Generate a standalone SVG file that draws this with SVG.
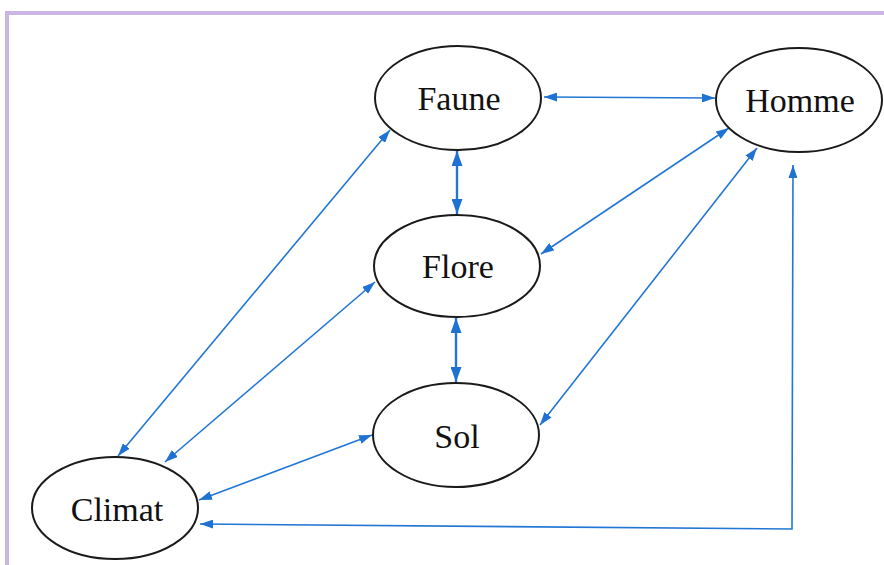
<svg xmlns="http://www.w3.org/2000/svg" width="884" height="565" viewBox="0 0 884 565">
<style>
.node ellipse{fill:#fff;stroke:#1a1a1a;stroke-width:2}
.node text{font-family:"Liberation Serif","Times New Roman",serif;font-size:34px;fill:#111;text-anchor:middle}
.conn path,.conn line{fill:none;stroke:#2277d4;stroke-width:1.6}
.thick{stroke-width:2.4 !important}
</style>
<defs>
<marker id="ah" viewBox="0 0 13 9" refX="13" refY="4.5" markerWidth="13" markerHeight="9" markerUnits="userSpaceOnUse" orient="auto-start-reverse">
<path d="M0,0 L13,4.5 L0,9 Z" fill="#1f72d2"/>
</marker>
<marker id="ahb" viewBox="0 0 15 11" refX="15" refY="5.5" markerWidth="15" markerHeight="11" markerUnits="userSpaceOnUse" orient="auto-start-reverse">
<path d="M0,0 L15,5.5 L0,11 Z" fill="#1f72d2"/>
</marker>
</defs>
<rect width="884" height="565" fill="#fff"/>
<path d="M7,570 L7,13 L890,13" fill="none" stroke="#cbb6e3" stroke-width="4"/>
<g class="conn">
<line x1="544" y1="97" x2="715" y2="98" marker-start="url(#ah)" marker-end="url(#ah)"/>
<line class="thick" x1="457" y1="151" x2="457" y2="214" marker-start="url(#ahb)" marker-end="url(#ahb)"/>
<line class="thick" x1="456" y1="318" x2="456" y2="382" marker-start="url(#ahb)" marker-end="url(#ahb)"/>
<line x1="729" y1="128" x2="541" y2="254" marker-start="url(#ah)" marker-end="url(#ah)"/>
<line x1="757" y1="148" x2="540" y2="425" marker-start="url(#ah)" marker-end="url(#ah)"/>
<line x1="390" y1="130" x2="118" y2="456" marker-start="url(#ah)" marker-end="url(#ah)"/>
<line x1="375" y1="282" x2="165" y2="462" marker-start="url(#ah)" marker-end="url(#ah)"/>
<line x1="372" y1="435" x2="199" y2="500" marker-start="url(#ah)" marker-end="url(#ah)"/>
<path d="M200,524 L792,529 L793,165" marker-start="url(#ah)" marker-end="url(#ah)"/>
</g>
<g id="faune" class="node"><ellipse cx="458" cy="98" rx="83" ry="52"/><text x="459" y="110">Faune</text></g>
<g id="homme" class="node"><ellipse cx="799" cy="100" rx="83" ry="52"/><text x="800" y="112">Homme</text></g>
<g id="flore" class="node"><ellipse cx="457" cy="266" rx="83" ry="51"/><text x="458" y="278">Flore</text></g>
<g id="sol" class="node"><ellipse cx="456" cy="435" rx="83" ry="52"/><text x="457" y="448">Sol</text></g>
<g id="climat" class="node"><ellipse cx="115" cy="508" rx="83" ry="51"/><text x="117" y="521">Climat</text></g>
</svg>
